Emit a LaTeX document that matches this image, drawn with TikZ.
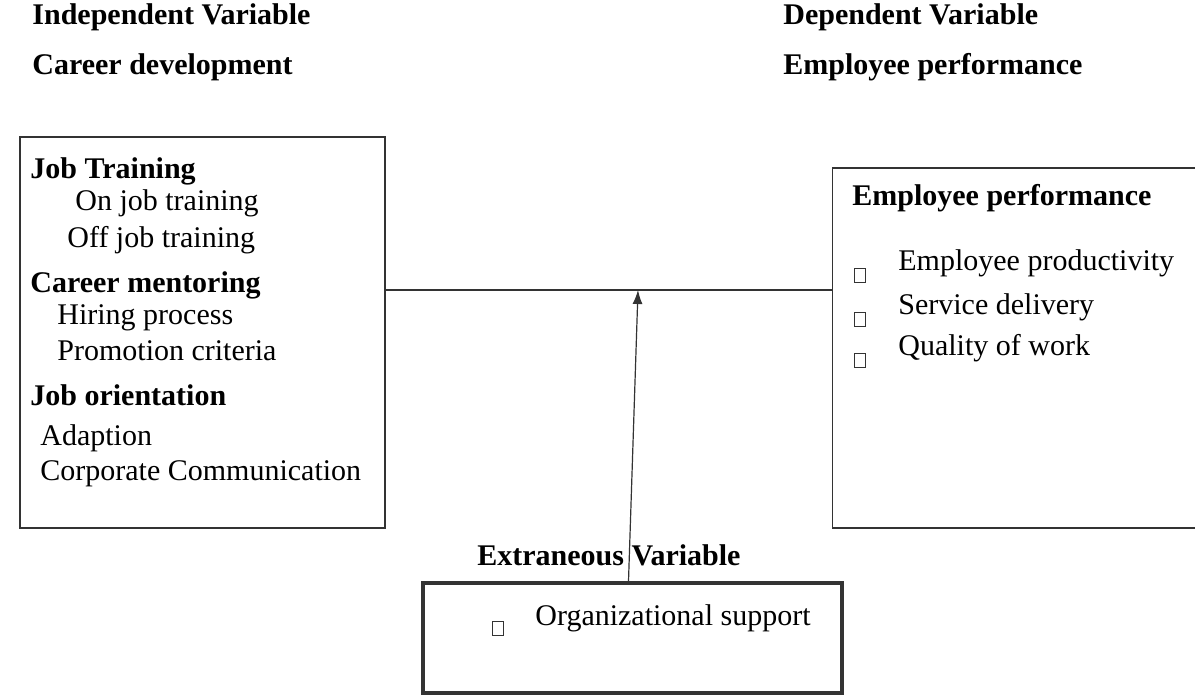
\documentclass[tikz,border=0pt]{standalone}
\usepackage{fontspec}
\setmainfont{Liberation Serif}
\usepackage{tikz}
\usetikzlibrary{calc,arrows.meta}
\tikzset{
	txt/.style={anchor=base west,inner sep=0pt,font=\fontsize{15}{18}\selectfont},
	hdr/.style={txt,font=\fontsize{15}{18}\selectfont\bfseries},
	box/.style={draw=black!80,line width=.6pt,inner sep=0pt},
	chk/.style={draw=black!80,line width=.5pt,inner sep=0pt,minimum width=5.5pt,minimum height=7pt}
}
\begin{document}
\begin{tikzpicture}[x=.5pt,y=-.5pt]
	\useasboundingbox (0,0) rectangle (1195,696);
	\node[hdr] (indep) at (32,25) {Independent Variable};
	\node[hdr] (dep) at (783,25) {Dependent Variable};
	\node[hdr] (career) at (32,75) {Career development};
	\node[hdr] (perf) at (783,75) {Employee performance};
	% boxes
	\node[box,minimum width=182.5pt,minimum height=195.5pt] (lbox) at (202.5,332.5) {};
	\node[box,minimum width=182.5pt,minimum height=180pt] (rbox) at (1015,348) {};
	\node[box,line width=1.8pt,minimum width=209.5pt,minimum height=55pt] (ebox) at (632.5,638) {};
	% left box
	\node[hdr] (train) at (30,178) {Job Training};
	\node[txt] (on) at (75,210) {On job training};
	\node[txt] (off) at (67,247) {Off job training};
	\node[hdr] (mentor) at (30,292) {Career mentoring};
	\node[txt] (hire) at (57,324) {Hiring process};
	\node[txt] (promo) at (57,360) {Promotion criteria};
	\node[hdr] (orient) at (30,405) {Job orientation};
	\node[txt] (adapt) at (40,445) {Adaption};
	\node[txt] (comm) at (40,480) {Corporate Communication};
	% right box
	\node[hdr] (perfbox) at (852,205) {Employee performance};
	\foreach \y/\t [count=\i] in {270/Employee productivity,314/Service delivery,355/Quality of work}{
		\node[chk] (c\i) at (860,\y+5) {};
		\node[txt] (p\i) at (898,\y) {\t};
	}
	% extraneous
	\node[hdr] (extra) at (477,565) {Extraneous Variable};
	\node[chk] (c4) at (498,628) {};
	\node[txt] (org) at (535,625) {Organizational support};
	% connectors
	\coordinate (join) at (638,290);
	\draw[black!80,line width=.6pt] (lbox.east |- join) -- (rbox.west |- join);
	\draw[black!80,line width=.6pt,-{Latex[length=7pt,width=5pt]}] ([xshift=-2pt]ebox.north) -- (join);
\end{tikzpicture}
\end{document}
